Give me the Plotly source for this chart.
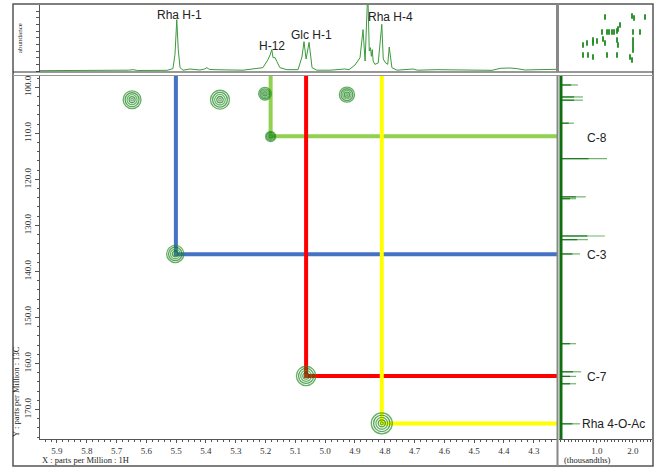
import plotly.graph_objects as go

W, H = 659, 471
def px(x):
    return x / W
def py(y):
    return 1 - y / H

# ---------------- data ----------------
h_tick_vals = [5.9, 5.8, 5.7, 5.6, 5.5, 5.4, 5.3, 5.2, 5.1, 5.0, 4.9, 4.8, 4.7, 4.6, 4.5, 4.4, 4.3]
h_tick_text = ["5.9", "5.8", "5.7", "5.6", "5.5", "5.4", "5.3", "5.2", "5.1", "5.0",
               "4.9", "4.8", "4.7", "4.6", "4.5", "4.4", "4.3"]
c_tick_vals = [100, 110, 120, 130, 140, 150, 160, 170]
c_tick_text = ["100.0", "110.0", "120.0", "130.0", "140.0", "150.0", "160.0", "170.0"]
proj_tick_vals = [1.0, 2.0]
proj_tick_text = ["1.0", "2.0"]

# 1H projection (ppm, relative abundance)
h1_ppm = [5.957, 5.70, 5.660, 5.645, 5.630, 5.531, 5.511, 5.504, 5.498, 5.493, 5.487, 5.477,
          5.454, 5.420, 5.405, 5.397, 5.389, 5.373, 5.353, 5.276, 5.209, 5.195, 5.192, 5.185,
          5.179, 5.175, 5.168, 5.162, 5.152, 5.128, 5.091, 5.078, 5.071, 5.064, 5.054, 5.044,
          5.028, 4.984, 4.950, 4.934, 4.920, 4.900, 4.883, 4.873, 4.866, 4.857, 4.852, 4.848,
          4.845, 4.842, 4.839, 4.833, 4.822, 4.810, 4.805, 4.797, 4.790, 4.785, 4.776, 4.759,
          4.705, 4.690, 4.625, 4.440, 4.413, 4.380, 4.356, 4.330, 4.289, 4.222]
h1_int = [0.005, 0.008, 0.012, 0.020, 0.008, 0.010, 0.035, 0.25, 0.77, 0.32, 0.05, 0.012,
          0.030, 0.015, 0.030, 0.050, 0.025, 0.020, 0.020, 0.012, 0.05, 0.14, 0.17, 0.24,
          0.32, 0.20, 0.20, 0.14, 0.05, 0.02, 0.02, 0.21, 0.44, 0.18, 0.43, 0.05,
          0.012, 0.012, 0.020, 0.030, 0.020, 0.09, 0.20, 0.62, 0.15, 1.20, 0.30, 0.35,
          0.22, 0.32, 0.15, 0.10, 0.12, 0.70, 0.18, 0.12, 0.10, 0.36, 0.05, 0.012,
          0.030, 0.012, 0.020, 0.010, 0.040, 0.045, 0.035, 0.015, 0.020, 0.025]

# 13C projection (ppm, intensity in thousandths)
c13_ppm = [99.5, 102.1, 102.8, 107.8, 115.5, 123.8, 124.2, 132.3, 133.1, 136.2,
           155.7, 161.8, 162.8, 164.4, 173.1]
c13_int = [0.47, 0.61, 0.61, 0.36, 1.28, 0.69, 0.42, 1.22, 0.75, 0.53,
           0.42, 0.56, 0.42, 0.42, 0.53]

# 2D cross peaks (1H ppm, 13C ppm, relative intensity)
cross_h = [5.648, 5.353, 5.202, 4.927, 5.183, 5.503, 5.064, 4.810]
cross_c = [102.7, 102.7, 101.4, 101.6, 110.7, 136.2, 162.7, 173.0]
cross_int = [0.85, 0.90, 0.60, 0.72, 0.48, 0.82, 0.92, 1.00]

# correlations (HMBC)
corr_h = [5.183, 5.501, 5.064, 4.810]
corr_c = [110.66, 136.27, 162.73, 173.03]
corr_colors = ["#92D050", "#4472C4", "#FF0000", "#FFFF00"]

# overview thumbnail marks (arbitrary units)
thumb_u = [46, 73, 75, 86, 61, 43, 48, 53, 58, 59, 74, 81, 34, 44, 46, 58, 59, 74, 74, 74,
           24, 28, 34, 24, 29, 34, 48, 58, 71, 73, 50, 55, 38]
thumb_v = [12, 11, 13, 12, 20, 27, 27, 27, 26, 24, 27, 27, 35, 34, 38, 35, 40, 35, 40, 45,
           40, 38, 38, 50, 50, 52, 50, 50, 52, 55, 27, 27, 36]

# ---------------- figure ----------------
H_RANGE = [5.957, 4.222]
C_RANGE = [176.4, 97.55]

fig = go.Figure()

# correlation lines
for h, c, col in zip(corr_h, corr_c, corr_colors):
    fig.add_trace(go.Scatter(x=[h, h, H_RANGE[1]], y=[C_RANGE[1], c, c], mode="lines",
                             line=dict(color=col, width=4), xaxis="x", yaxis="y",
                             hoverinfo="skip", showlegend=False))

# cross peaks as contour rings
ring_fracs = [1.0, 0.78, 0.56, 0.34, 0.14]
ring_cols = ["#1f8c1f", "#137a13", "#2a962a", "#0f720f", "#2a962a"]
for frac, col in zip(ring_fracs, ring_cols):
    fig.add_trace(go.Scatter(x=cross_h, y=cross_c, mode="markers",
                             marker=dict(symbol="circle-open", color=col,
                                         size=[21 * v * frac for v in cross_int],
                                         line=dict(width=1.3, color=col)),
                             xaxis="x", yaxis="y", hoverinfo="skip", showlegend=False))

# 1H projection
fig.add_trace(go.Scatter(x=h1_ppm, y=h1_int, mode="lines",
                         line=dict(color="#3c9a3c", width=1), xaxis="x2", yaxis="y2",
                         hoverinfo="skip", showlegend=False))

# 13C projection
sx, sy, dx, dy = [], [], [], []
for c, v in zip(c13_ppm, c13_int):
    sx += [0, v, None]
    sy += [c, c, None]
    dx += [0, v * 0.6, None]
    dy += [c, c, None]
fig.add_trace(go.Scatter(x=sx, y=sy, mode="lines", line=dict(color="#6fb46f", width=1.2),
                         xaxis="x3", yaxis="y3", hoverinfo="skip", showlegend=False))
fig.add_trace(go.Scatter(x=dx, y=dy, mode="lines", line=dict(color="#1a7a1a", width=1.2),
                         xaxis="x3", yaxis="y3", hoverinfo="skip", showlegend=False))
fig.add_trace(go.Scatter(x=[0, 0], y=[C_RANGE[1], C_RANGE[0]], mode="lines",
                         line=dict(color="#0f6e0f", width=3),
                         xaxis="x3", yaxis="y3", hoverinfo="skip", showlegend=False))

# thumbnail
fig.add_trace(go.Scatter(x=thumb_u, y=thumb_v, mode="markers",
                         marker=dict(symbol="line-ns", size=4, color="#1f8a1f",
                                     line=dict(width=1.8, color="#1f8a1f")),
                         xaxis="x4", yaxis="y4", hoverinfo="skip", showlegend=False))

tickfont = dict(family="Liberation Serif", size=9, color="#333")
axis_common = dict(showgrid=False, zeroline=False, showline=True, linecolor="#555",
                   linewidth=1, tickcolor="#555", tickfont=tickfont)

fig.update_layout(
    width=W, height=H, margin=dict(l=0, r=0, t=0, b=0),
    paper_bgcolor="white", plot_bgcolor="white", showlegend=False,
    xaxis=dict(domain=[px(40), px(557)], range=H_RANGE, anchor="y",
               tickmode="array", tickvals=h_tick_vals, ticktext=h_tick_text,
               ticks="outside", ticklen=3, tickwidth=1,
               minor=dict(ticks="outside", dtick=0.02, ticklen=2, tickcolor="#555"),
               **axis_common),
    yaxis=dict(domain=[py(439), py(76)], range=C_RANGE, anchor="x",
               tickmode="array", tickvals=c_tick_vals, ticktext=c_tick_text,
               ticks="outside", ticklen=4, tickwidth=1, tickangle=-90,
               minor=dict(ticks="outside", dtick=2, ticklen=2, tickcolor="#555"),
               **axis_common),
    xaxis2=dict(domain=[px(40), px(557)], range=H_RANGE, anchor="y2",
                showticklabels=False, ticks="", showgrid=False, zeroline=False,
                showline=False),
    yaxis2=dict(domain=[py(72), py(5)], range=[-0.015, 0.99], anchor="x2",
                showticklabels=False, ticks="outside", ticklen=3, dtick=0.1,
                tickcolor="#555", showgrid=False, zeroline=False,
                showline=True, linecolor="#555", linewidth=1),
    xaxis3=dict(domain=[px(559), px(652)], range=[-0.055, 2.53], anchor="y3",
                tickmode="array", tickvals=proj_tick_vals, ticktext=proj_tick_text,
                ticks="outside", ticklen=3, tickwidth=1,
                minor=dict(ticks="outside", dtick=0.1, ticklen=2, tickcolor="#555"),
                **axis_common),
    yaxis3=dict(domain=[py(439), py(76)], range=C_RANGE, anchor="x3",
                showticklabels=False, ticks="", showgrid=False, zeroline=False,
                showline=False),
    xaxis4=dict(domain=[px(559), px(652)], range=[0, 93], anchor="y4", visible=False),
    yaxis4=dict(domain=[py(72), py(5)], range=[67, 0], anchor="x4", visible=False),
)

shapes = [
    dict(type="rect", xref="paper", yref="paper", x0=px(13), x1=px(653), y0=py(466), y1=py(4),
         line=dict(color="#555", width=1.5)),
    dict(type="line", xref="paper", yref="paper", x0=px(13), x1=px(653), y0=py(72), y1=py(72),
         line=dict(color="#333", width=1.2)),
    dict(type="line", xref="paper", yref="paper", x0=px(13), x1=px(653), y0=py(75.5), y1=py(75.5),
         line=dict(color="#999", width=1)),
    dict(type="line", xref="paper", yref="paper", x0=px(557.5), x1=px(557.5), y0=py(4), y1=py(72),
         line=dict(color="#888", width=3)),
    dict(type="line", xref="paper", yref="paper", x0=px(557.5), x1=px(557.5), y0=py(75.5), y1=py(466),
         line=dict(color="#888", width=2)),
]
fig.update_layout(shapes=shapes)

lab_font = dict(family="Liberation Sans", size=12, color="#222")
ann = []
def label(text, x, y, xanchor="center", font=lab_font, angle=0):
    ann.append(dict(text=text, x=px(x), y=py(y), xref="paper", yref="paper",
                    showarrow=False, xanchor=xanchor, yanchor="middle", font=font,
                    textangle=angle))

label("Rha H-1", 180, 15)
label("H-12", 272, 46)
label("Glc H-1", 311, 35)
label("Rha H-4", 390, 17)
label("C-8", 597, 138)
label("C-3", 597, 255)
label("C-7", 597, 377)
label("Rha 4-O-Ac", 580, 424, xanchor="left")

small_serif = dict(family="Liberation Serif", size=8.5, color="#222")
label("X : parts per Million : 1H", 40, 459.5, xanchor="left", font=small_serif)
label("(thousandths)", 562, 459.5, xanchor="left", font=small_serif)
label("Y : parts per Million : 13C", 16, 392, font=small_serif, angle=-90)
label("abundance", 20, 38, font=dict(family="Liberation Serif", size=7, color="#222"), angle=-90)
fig.update_layout(annotations=ann)

fig.write_html("out.html")
